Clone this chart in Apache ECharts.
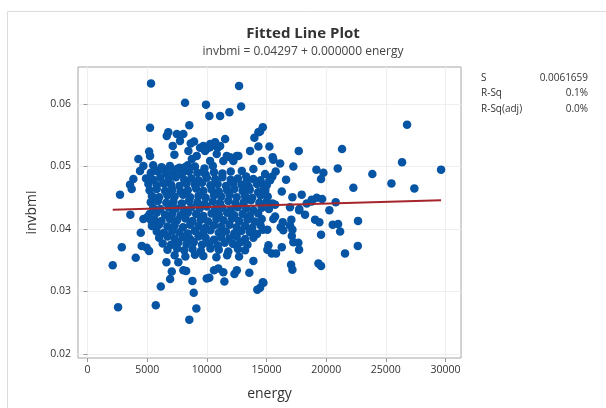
<!DOCTYPE html>
<html>
<head>
<meta charset="utf-8">
<script src="https://cdn.jsdelivr.net/npm/echarts@6/dist/echarts.min.js"></script>
<style>
html,body{margin:0;padding:0;background:#fff;}
#chart{width:606px;height:408px;}
</style>
</head>
<body>
<div id="chart"></div>
<script>
// ---- data ----
const xTicks = [0, 5000, 10000, 15000, 20000, 25000, 30000];
const yTicks = [0.02, 0.03, 0.04, 0.05, 0.06];
const fitIntercept = 0.04297;
const fitSlope = 0.000000055;
const statLabels = ['S', 'R-Sq', 'R-Sq(adj)'];
const statValues = ['0.0061659', '0.1%', '0.0%'];

// scattered outer points [energy, invbmi]
const upperPoints = [
 [5320,0.0633],[12700,0.0629],[8170,0.0602],[9930,0.0599],[12870,0.0596],[10210,0.0581],[11110,0.0581],[11890,0.0587],
 [5240,0.0562],[8530,0.0566],[6770,0.0555],[6640,0.0549],[7480,0.0552],[8030,0.0552],[7750,0.0541],[7140,0.0533],
 [7280,0.0519],[8450,0.0525],[8930,0.0540],[8650,0.0537],[5160,0.0524],[5240,0.0517],[4260,0.0512],[4680,0.0501],
 [4400,0.0493],[3840,0.0480],[3560,0.0471],[3700,0.0464],[2720,0.0455],[9710,0.0533],[9990,0.0528],[10270,0.0531],
 [10690,0.0539],[10910,0.0530],[11530,0.0544],[11110,0.0533],[10270,0.0536],[13980,0.0546],[14320,0.0555],[14690,0.0563],
 [14460,0.0556],[13620,0.0525],[14320,0.0532],[12220,0.0509],[11940,0.0515],[12510,0.0517],[12930,0.0493],[13900,0.0496],
 [12640,0.0517],[13350,0.0477],[14600,0.0509],[14880,0.0488],[15240,0.0478],[14740,0.0464],[5800,0.0493],[6360,0.0496],
 [6770,0.0493],[7480,0.0496],[8170,0.0499],[9710,0.0491],[10270,0.0509],[10830,0.0520],[11380,0.0509],[11670,0.0517],
 [8740,0.0512],[9150,0.0517],[9430,0.0530],[9850,0.0525]
];
const rightPoints = [
 [26780,0.0567],[21330,0.0528],[26360,0.0507],[19180,0.0495],[19770,0.0490],[19570,0.0480],[20970,0.0497],[23870,0.0488],
 [29630,0.0495],[25470,0.0473],[27390,0.0465],[22280,0.0466],[18790,0.0447],[19210,0.0450],[19660,0.0448],[20800,0.0443],
 [20270,0.0430],[19070,0.0415],[19430,0.0411],[20550,0.0407],[21000,0.0408],[22670,0.0413],[21170,0.0396],[19570,0.0391],
 [22650,0.0373],[21580,0.0361],[19350,0.0345],[19570,0.0341],[17700,0.0525],[15240,0.0532],[15520,0.0515],[15570,0.0511],
 [16140,0.0505],[17250,0.0500],[15770,0.0492],[15490,0.0484],[15300,0.0478],[15020,0.0470],[16640,0.0479],[16280,0.0460],
 [17170,0.0451],[17950,0.0455],[18370,0.0441],[18790,0.0444],[15720,0.0439],[16970,0.0435],[17750,0.0432],[17730,0.0430],
 [18230,0.0423],[17080,0.0415],[16970,0.0406],[17170,0.0399],[16360,0.0411],[16190,0.0403],[16410,0.0398],[15720,0.0420],
 [15570,0.0416],[14690,0.0399],[15070,0.0399],[17120,0.0389],[17250,0.0379],[17670,0.0378],[17730,0.0367],[15160,0.0374],
 [15070,0.0367],[15440,0.0361],[15800,0.0361],[16280,0.0371],[17060,0.0343],[17170,0.0335],[14740,0.0314],[14460,0.0306]
];
const lowerPoints = [
 [3590,0.0423],[2110,0.0342],[2560,0.0275],[2870,0.0371],[4040,0.0354],[4460,0.0394],[4540,0.0373],[4960,0.0370],
 [5160,0.0365],[4680,0.0416],[5010,0.0419],[5320,0.0414],[5720,0.0278],[6140,0.0308],[6610,0.0347],[6920,0.0320],
 [7060,0.0332],[8530,0.0255],[8900,0.0298],[8790,0.0317],[9120,0.0273],[7610,0.0347],[8030,0.0334],[8260,0.0333],
 [9990,0.0321],[10210,0.0322],[10600,0.0334],[10960,0.0337],[11380,0.0331],[11470,0.0316],[12310,0.0328],[12510,0.0334],
 [13560,0.0330],[13900,0.0349],[14230,0.0303],[14690,0.0315]
];
// dense central cluster
const clusterPoints = [
 [5500,0.0502],[6200,0.0499],[6900,0.0501],[7700,0.0498],[8400,0.0502],[9000,0.0500],[9800,0.0497],[10500,0.0501],
 [5300,0.0490],[5900,0.0492],[6600,0.0489],[7200,0.0491],[7900,0.0488],[8500,0.0492],[9200,0.0490],[9900,0.0487],[10600,0.0491],[11300,0.0489],[12000,0.0492],
 [4900,0.0481],[5500,0.0479],[6100,0.0482],[6800,0.0480],[7400,0.0483],[8100,0.0479],[8700,0.0481],[9300,0.0478],[10000,0.0482],[10700,0.0480],[11300,0.0483],[12000,0.0479],[12600,0.0481],[13300,0.0484],[13900,0.0480],[14500,0.0478],
 [5100,0.0472],[5800,0.0470],[6400,0.0473],[7000,0.0471],[7700,0.0469],[8300,0.0473],[9000,0.0471],[9600,0.0474],[10300,0.0470],[10900,0.0472],[11600,0.0469],[12200,0.0473],[12900,0.0471],[13500,0.0468],[14200,0.0472],[14800,0.0470],
 [5200,0.0462],[5800,0.0464],[6500,0.0461],[7100,0.0463],[7800,0.0460],[8400,0.0462],[9100,0.0465],[9700,0.0461],[10400,0.0463],[11000,0.0460],[11700,0.0462],[12300,0.0464],[13000,0.0461],[13600,0.0463],[14300,0.0459],[14900,0.0462],
 [5400,0.0453],[6000,0.0451],[6700,0.0454],[7300,0.0452],[8000,0.0455],[8600,0.0451],[9300,0.0453],[9900,0.0450],[10600,0.0454],[11200,0.0452],[11900,0.0455],[12500,0.0451],[13200,0.0453],[13800,0.0450],[14500,0.0454],[15100,0.0452],
 [5300,0.0443],[5900,0.0445],[6600,0.0442],[7200,0.0444],[7900,0.0441],[8500,0.0445],[9200,0.0443],[9800,0.0440],[10500,0.0444],[11100,0.0442],[11800,0.0445],[12400,0.0441],[13100,0.0443],[13700,0.0446],[14400,0.0442],[15000,0.0444],[15500,0.0441],
 [5500,0.0434],[6100,0.0432],[6800,0.0435],[7400,0.0433],[8100,0.0431],[8700,0.0435],[9400,0.0433],[10000,0.0436],[10700,0.0432],[11300,0.0434],[12000,0.0431],[12600,0.0435],[13300,0.0433],[13900,0.0430],[14600,0.0434],[15200,0.0432],
 [5200,0.0424],[5800,0.0426],[6500,0.0423],[7100,0.0425],[7800,0.0422],[8400,0.0426],[9100,0.0424],[9700,0.0421],[10400,0.0425],[11000,0.0423],[11700,0.0426],[12300,0.0422],[13000,0.0424],[13600,0.0421],[14300,0.0425],
 [5600,0.0415],[6200,0.0413],[6900,0.0416],[7500,0.0414],[8200,0.0417],[8800,0.0413],[9500,0.0415],[10100,0.0412],[10800,0.0416],[11400,0.0414],[12100,0.0417],[12700,0.0413],[13400,0.0415],[14000,0.0412],[14600,0.0416],
 [5400,0.0405],[6000,0.0407],[6700,0.0404],[7300,0.0406],[8000,0.0403],[8600,0.0407],[9300,0.0405],[9900,0.0402],[10600,0.0406],[11200,0.0404],[11900,0.0407],[12500,0.0403],[13200,0.0405],[13800,0.0402],[14500,0.0406],
 [5800,0.0396],[6400,0.0394],[7100,0.0397],[7700,0.0395],[8400,0.0393],[9000,0.0397],[9700,0.0395],[10300,0.0398],[11000,0.0394],[11600,0.0396],[12300,0.0393],[12900,0.0397],[13600,0.0395],[14200,0.0392],
 [6000,0.0386],[6700,0.0388],[7300,0.0385],[8000,0.0387],[8600,0.0384],[9300,0.0388],[9900,0.0386],[10600,0.0383],[11200,0.0387],[11900,0.0385],[12500,0.0388],[13200,0.0384],[13900,0.0386],
 [6300,0.0377],[7000,0.0375],[7600,0.0378],[8300,0.0376],[8900,0.0379],[9600,0.0375],[10200,0.0377],[10900,0.0374],[11500,0.0378],[12200,0.0376],[12800,0.0379],[13400,0.0375],
 [6700,0.0367],[7500,0.0369],[8100,0.0366],[8800,0.0368],[9500,0.0365],[10300,0.0369],[11000,0.0367],[11800,0.0364],[12600,0.0368],[13200,0.0366],
 [7300,0.0358],[8200,0.0356],[9000,0.0359],[9700,0.0357],[10800,0.0355],[11700,0.0358],[12700,0.0356]
];

const allPoints = clusterPoints.concat(upperPoints, rightPoints, lowerPoints);
const xs = allPoints.map(p => p[0]);
const xMinData = Math.min.apply(null, xs), xMaxData = Math.max.apply(null, xs);
const fitLine = [xMinData, xMaxData].map(x => [x, fitIntercept + fitSlope * x]);

const FONT = '"Open Sans", "Noto Sans", sans-serif';
const chart = echarts.init(document.getElementById('chart'), null, {renderer: 'canvas'});

const statGraphics = [];
statLabels.forEach((s, i) => {
  statGraphics.push({type: 'text', x: 481, y: 73 + i * 15.5,
    style: {text: s, fill: '#333', font: '10px ' + FONT}});
  statGraphics.push({type: 'text', x: 588, y: 73 + i * 15.5,
    style: {text: statValues[i], fill: '#333', font: '10px ' + FONT, textAlign: 'right'}});
});

chart.setOption({
  animation: false,
  backgroundColor: '#fff',
  title: {
    text: 'Fitted Line Plot',
    subtext: 'invbmi = 0.04297 + 0.000000 energy',
    left: 'center', top: 21, itemGap: 5,
    textStyle: {fontFamily: FONT, fontSize: 15, fontWeight: 'bold', color: '#333'},
    subtextStyle: {fontFamily: FONT, fontSize: 12, color: '#444'}
  },
  graphic: [
    {type: 'line', shape: {x1: 7.5, y1: 11.5, x2: 606, y2: 11.5}, style: {stroke: '#dcdcdc', lineWidth: 1}},
    {type: 'line', shape: {x1: 7.5, y1: 11.5, x2: 7.5, y2: 408}, style: {stroke: '#dcdcdc', lineWidth: 1}}
  ].concat(statGraphics),
  grid: {left: 78, top: 67, width: 383, height: 291, show: true, borderColor: '#a6a6a6', borderWidth: 1, containLabel: false},
  xAxis: {
    type: 'value', min: -800, max: 31300,
    name: 'energy', nameLocation: 'middle', nameGap: 29,
    nameTextStyle: {fontFamily: FONT, fontSize: 14, color: '#333'},
    axisLine: {show: false},
    axisTick: {show: true, length: 4, customValues: xTicks, lineStyle: {color: '#999'}},
    axisLabel: {customValues: xTicks, fontFamily: FONT, fontSize: 10.5, color: '#333', margin: 7,
      formatter: v => String(v)},
    splitLine: {show: true, lineStyle: {color: '#eeeeee'}}
  },
  yAxis: {
    type: 'value', min: 0.01936, max: 0.06592,
    name: 'invbmi', nameLocation: 'middle', nameGap: 29,
    nameTextStyle: {fontFamily: FONT, fontSize: 14, color: '#333'},
    axisLine: {show: false},
    axisTick: {show: true, length: 4, customValues: yTicks, lineStyle: {color: '#999'}},
    axisLabel: {customValues: yTicks, fontFamily: FONT, fontSize: 10.5, color: '#333', margin: 7,
      formatter: v => v.toFixed(2)},
    splitLine: {show: true, lineStyle: {color: '#eeeeee'}}
  },
  series: [
    {type: 'scatter', data: allPoints, symbolSize: 8.5,
     itemStyle: {color: '#0654a4', opacity: 1}, silent: true, z: 2},
    {type: 'line', data: fitLine, showSymbol: false, silent: true,
     lineStyle: {color: '#a4262c', width: 2}, z: 3}
  ]
});
</script>
</body>
</html>
